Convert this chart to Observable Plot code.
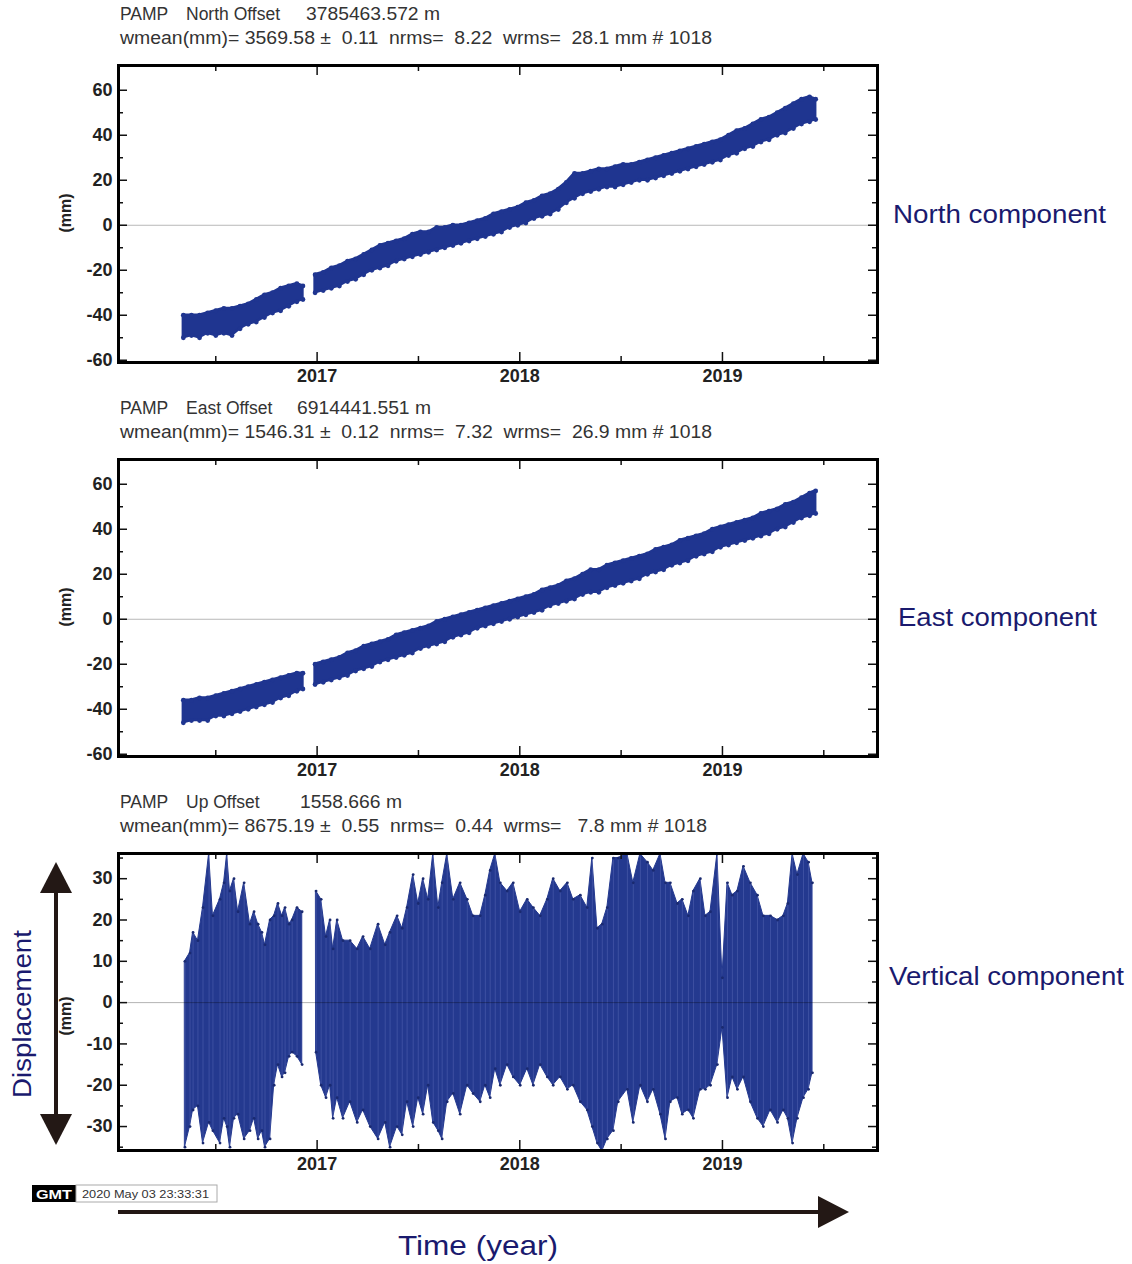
<!DOCTYPE html>
<html><head><meta charset="utf-8">
<script src="https://cdn.jsdelivr.net/npm/d3@7"></script>
<script src="https://cdn.jsdelivr.net/npm/@observablehq/plot@0.6"></script>
<style>
body{margin:0;background:#fff;}
#root{position:relative;width:1132px;height:1264px;overflow:hidden;background:#fff;}
.panel{position:absolute;left:0;}
#overlay{position:absolute;left:0;top:0;pointer-events:none;}
</style></head>
<body><div id="root"></div>
<script>
// ---------- text ----------
const station = "PAMP";
const components = ["North Offset", "East Offset", "Up Offset"];
const refCoords = ["3785463.572 m", "6914441.551 m", "1558.666 m"];
const stats = [
  "wmean(mm)= 3569.58 \u00b1  0.11  nrms=  8.22  wrms=  28.1 mm # 1018",
  "wmean(mm)= 1546.31 \u00b1  0.12  nrms=  7.32  wrms=  26.9 mm # 1018",
  "wmean(mm)= 8675.19 \u00b1  0.55  nrms=  0.44  wrms=   7.8 mm # 1018"
];
const sideLabels = ["North component", "East component", "Vertical component"];
const yLabel = "(mm)";
const timestamp = "2020 May 03 23:33:31";

// ---------- axes ----------
const xDomain = [2016.02, 2019.765];
const xMajor = [2017, 2018, 2019];
const xMinor = [2016.5, 2017.5, 2018.5, 2019.5];
const yDomainNE = [-61, 71];
const yMajorNE = [-60, -40, -20, 0, 20, 40, 60];
const yMinorNE = [-50, -30, -10, 10, 30, 50];
const yDomainV = [-35.8, 36.1];
const yMajorV = [-30, -20, -10, 0, 10, 20, 30];
const yMinorV = [-35, -25, -15, -5, 5, 15, 25, 35];

// ---------- North / East samples (decimal year; null = data gap) ----------
const tNE = [2016.34,2016.38,2016.42,2016.46,2016.50,2016.54,2016.58,2016.62,2016.66,2016.70,2016.74,2016.78,2016.82,2016.86,2016.90,2016.93,
  2016.96,
  2016.99,2017.03,2017.07,2017.11,2017.15,2017.19,2017.23,2017.27,2017.31,2017.35,2017.39,2017.43,2017.47,2017.51,2017.55,2017.59,2017.63,2017.67,2017.71,2017.75,2017.79,2017.83,2017.87,2017.91,2017.95,2017.99,
  2018.03,2018.07,2018.11,2018.15,2018.19,2018.23,2018.27,2018.31,2018.35,2018.39,2018.43,2018.47,2018.51,2018.55,2018.59,2018.63,2018.67,2018.71,2018.75,2018.79,2018.83,2018.87,2018.91,2018.95,2018.99,
  2019.03,2019.07,2019.11,2019.15,2019.19,2019.23,2019.27,2019.31,2019.35,2019.39,2019.43,2019.46];
const northLo = [-50,-49,-50,-48,-49,-48,-49,-46,-44,-43,-41,-39,-38,-36,-34,-33,
  null,
  -30,-29,-28,-27,-25,-24,-22,-20,-19,-18,-16,-15,-14,-13,-12,-11,-10,-9,-8,-7,-6,-5,-4,-3,-1,0,
  1,3,4,5,7,10,12,14,15,16,17,17,18,19,20,20,21,22,23,24,25,26,27,28,29,
  31,32,34,35,37,38,40,41,43,45,46,47];
const northHi = [-40,-40,-40,-39,-38,-37,-37,-36,-35,-33,-31,-30,-28,-27,-26,-27,
  null,
  -22,-21,-19,-18,-16,-15,-13,-11,-9,-8,-7,-6,-4,-3,-3,-1,-1,0,0,1,2,3,5,6,7,8,
  10,11,13,14,16,19,23,23,24,25,25,26,27,27,28,29,30,31,32,33,34,35,36,37,38,
  40,42,43,45,47,48,50,52,54,56,57,56];
const eastLo = [-46,-45,-45,-45,-43,-43,-42,-41,-40,-39,-38,-37,-35,-34,-32,-31,
  null,
  -29,-28,-27,-26,-25,-23,-22,-21,-19,-18,-17,-16,-15,-13,-12,-11,-10,-8,-7,-6,-4,-3,-2,-1,0,1,
  2,3,4,6,7,8,9,11,12,12,14,15,16,17,18,20,21,22,24,25,26,28,29,30,32,
  33,34,35,36,37,38,40,41,43,45,46,47];
const eastHi = [-36,-36,-35,-35,-34,-33,-32,-31,-30,-29,-28,-27,-26,-25,-24,-24,
  null,
  -20,-19,-18,-17,-15,-14,-12,-11,-10,-9,-7,-6,-5,-4,-3,-1,0,1,2,3,4,5,6,7,8,9,
  10,11,13,14,15,17,18,20,22,22,24,25,26,27,28,29,31,32,33,35,36,37,38,40,41,
  42,43,44,45,47,48,49,51,52,54,56,57];

// ---------- Vertical samples (extent of values incl. error bars) ----------
const tV = [2016.348,2016.373,2016.388,2016.412,2016.437,2016.467,2016.486,2016.521,2016.541,2016.556,2016.570,2016.590,2016.610,2016.640,2016.669,2016.689,2016.709,2016.728,2016.743,2016.768,2016.788,2016.807,2016.827,2016.842,2016.862,2016.877,2016.901,2016.926,
  2016.96,
  2016.995,2017.020,2017.044,2017.064,2017.079,2017.099,2017.128,2017.163,2017.198,2017.227,2017.262,2017.301,2017.336,2017.360,2017.395,2017.420,2017.444,2017.474,2017.499,2017.523,2017.548,2017.573,2017.598,2017.617,2017.642,2017.672,2017.706,2017.741,2017.770,2017.805,2017.830,2017.854,2017.879,2017.904,2017.938,2017.968,
  2018.002,2018.037,2018.067,2018.101,2018.136,2018.165,2018.200,2018.235,2018.264,2018.299,2018.333,2018.358,2018.383,2018.407,2018.432,2018.462,2018.486,2018.531,2018.560,2018.595,2018.630,2018.659,2018.694,2018.719,2018.743,2018.778,2018.802,2018.832,2018.857,2018.891,2018.916,2018.941,2018.975,
  2019.000,2019.025,2019.049,2019.074,2019.104,2019.138,2019.173,2019.202,2019.237,2019.272,2019.301,2019.323,2019.346,2019.370,2019.400,2019.425,2019.444];
const upHi = [10,12,17,15,23,36,21,25,29,36,27,30,22,29,19,22,19,17,14,20,21,24,21,23,19,20,23,22,
  null,
  27,25,16,20,13,20,15,15,13,16,13,19,14,17,21,18,23,31,24,30,25,36,23,29,36,25,29,25,21,21,26,32,36,29,27,29,
  22,25,23,21,25,30,27,29,25,26,23,35,18,19,23,35,35,36,29,36,34,32,36,29,29,24,25,21,27,30,21,22,36,
  6,29,26,27,33,29,26,21,21,20,21,24,36,31,36,34,29];
const upLo = [-35,-30,-26,-25,-34,-29,-31,-34,-28,-30,-35,-28,-27,-33,-31,-28,-33,-31,-35,-33,-20,-15,-18,-17,-13,-12,-13,-15,
  null,
  -12,-20,-23,-20,-28,-23,-28,-24,-29,-26,-30,-33,-29,-35,-30,-32,-24,-30,-23,-27,-20,-29,-31,-33,-24,-22,-27,-20,-22,-24,-20,-23,-16,-20,-15,-18,
  -20,-16,-20,-15,-18,-20,-18,-21,-20,-24,-26,-30,-34,-36,-33,-31,-24,-21,-29,-20,-24,-21,-27,-33,-24,-23,-27,-26,-28,-21,-21,-20,-15,
  -6,-23,-18,-21,-18,-24,-28,-30,-26,-29,-26,-28,-34,-28,-23,-21,-17];

// ---------- styles ----------
const bandColor = "#1f3590";
const upColor = "#24398f";
const navy = "#1a1a6e";
const arrowColor = "#231815";

const W = 1132, ML = 118, MR = 255, MT = 10, MB = 34, FH = 297;
const FW = W - ML - MR;
const frameTops = [65, 459, 853];

function rowsOf(t, lo, hi) {
  return t.map((d, i) => ({t: d, lo: lo[i], hi: hi[i]}));
}

function makePanel(k) {
  const vertical = k === 2;
  const yDomain = vertical ? yDomainV : yDomainNE;
  const yMajor = vertical ? yMajorV : yMajorNE;
  const yMinor = vertical ? yMinorV : yMinorNE;
  const rows = k === 0 ? rowsOf(tNE, northLo, northHi) : k === 1 ? rowsOf(tNE, eastLo, eastHi) : rowsOf(tV, upLo, upHi);
  const valid = rows.filter(d => d.lo != null);
  const dataMarks = vertical ? [
    Plot.areaY(rows, {x: "t", y1: "lo", y2: "hi", fill: upColor, stroke: upColor, strokeWidth: 1, clip: true}),
    Plot.ruleX(valid, {x: "t", y1: "lo", y2: "hi", stroke: "#6474bd", strokeOpacity: 0.4, strokeWidth: 1, clip: true}),
    Plot.dot(valid, {x: "t", y: "hi", r: 1.4, fill: "#1a2a70", clip: true}),
    Plot.dot(valid, {x: "t", y: "lo", r: 1.4, fill: "#1a2a70", clip: true}),
    Plot.ruleY([0], {stroke: "#000", strokeOpacity: 0.3, strokeWidth: 1})
  ] : [
    Plot.ruleY([0], {stroke: "#b8b8b8", strokeWidth: 1}),
    Plot.areaY(rows, {x: "t", y1: "lo", y2: "hi", fill: bandColor, stroke: bandColor, strokeWidth: 2.5, strokeLinejoin: "round"}),
    Plot.dot(valid, {x: "t", y: "hi", r: 2.4, fill: bandColor}),
    Plot.dot(valid, {x: "t", y: "lo", r: 2.4, fill: bandColor})
  ];
  const svg = Plot.plot({
    width: W, height: FH + MT + MB,
    marginLeft: ML, marginRight: MR, marginTop: MT, marginBottom: MB,
    x: {domain: xDomain},
    y: {domain: yDomain},
    style: {fontFamily: "'Liberation Sans', Arial, sans-serif", fontSize: "18px", fontWeight: "bold", color: "#222", background: "transparent", overflow: "visible"},
    marks: [
      ...dataMarks,
      Plot.tickY(yMajor, {y: d => d, insetRight: FW - 9, stroke: "#111", strokeWidth: 1.5}),
      Plot.tickY(yMinor, {y: d => d, insetRight: FW - 5, stroke: "#111", strokeWidth: 1.5}),
      Plot.tickY(yMajor, {y: d => d, insetLeft: FW - 9, stroke: "#111", strokeWidth: 1.5}),
      Plot.tickY(yMinor, {y: d => d, insetLeft: FW - 5, stroke: "#111", strokeWidth: 1.5}),
      Plot.tickX(xMajor, {x: d => d, insetTop: FH - 10, stroke: "#111", strokeWidth: 1.5}),
      Plot.tickX(xMinor, {x: d => d, insetTop: FH - 6, stroke: "#111", strokeWidth: 1.5}),
      Plot.tickX(xMajor, {x: d => d, insetBottom: FH - 10, stroke: "#111", strokeWidth: 1.5}),
      Plot.tickX(xMinor, {x: d => d, insetBottom: FH - 6, stroke: "#111", strokeWidth: 1.5}),
      Plot.frame({stroke: "#000", strokeWidth: 3}),
      Plot.axisY(yMajor, {tickSize: 0, tickPadding: 6, tickFormat: d => String(d), label: null}),
      Plot.axisX(xMajor, {tickSize: 0, tickPadding: 7, tickFormat: d => String(d), label: null})
    ]
  });
  svg.classList.add("panel");
  svg.style.top = (frameTops[k] - MT) + "px";
  return svg;
}

const root = document.getElementById("root");
for (let k = 0; k < 3; k++) root.appendChild(makePanel(k));

// ---------- overlay: headers, annotations ----------
const NS = "http://www.w3.org/2000/svg";
const ov = document.createElementNS(NS, "svg");
ov.setAttribute("id", "overlay");
ov.setAttribute("width", W);
ov.setAttribute("height", 1264);
root.appendChild(ov);
function el(name, attrs, text) {
  const e = document.createElementNS(NS, name);
  for (const [a, v] of Object.entries(attrs)) e.setAttribute(a, v);
  if (text != null) e.textContent = text;
  ov.appendChild(e);
  return e;
}
const hdrFont = "'Liberation Sans', Arial, sans-serif";
const offsets = [0, 394, 788];
const refLen = [134, 134, 102];
const refX = [306, 297, 300];
const statLen = [592, 592, 587];
const yLabelY = [213, 607, 1016];
for (let k = 0; k < 3; k++) {
  const dy = offsets[k];
  el("text", {x: 120, y: 20 + dy, "font-family": hdrFont, "font-size": 17.5, fill: "#333"}, station);
  el("text", {x: 186, y: 20 + dy, "font-family": hdrFont, "font-size": 17.5, fill: "#333"}, components[k]);
  el("text", {x: refX[k], y: 20 + dy, "font-family": hdrFont, "font-size": 17.5, fill: "#333", textLength: refLen[k], lengthAdjust: "spacingAndGlyphs"}, refCoords[k]);
  el("text", {x: 120, y: 44 + dy, "font-family": hdrFont, "font-size": 17.5, fill: "#333", textLength: statLen[k], lengthAdjust: "spacingAndGlyphs", style: "white-space:pre"}, stats[k]);
  el("text", {transform: `translate(71,${yLabelY[k]}) rotate(-90)`, "text-anchor": "middle", "font-family": hdrFont, "font-size": 16, "font-weight": "bold", fill: "#222"}, yLabel);
}
const sideX = [893, 898, 889], sideY = [223, 626, 985], sideLen = [213, 199, 235];
for (let k = 0; k < 3; k++) {
  el("text", {x: sideX[k], y: sideY[k], "font-family": hdrFont, "font-size": 25, fill: navy, textLength: sideLen[k], lengthAdjust: "spacingAndGlyphs"}, sideLabels[k]);
}
el("line", {x1: 56, y1: 885, x2: 56, y2: 1122, stroke: arrowColor, "stroke-width": 4});
el("polygon", {points: "56,862 40,893 72,893", fill: arrowColor});
el("polygon", {points: "56,1145 40,1114 72,1114", fill: arrowColor});
el("text", {transform: "translate(31,1014) rotate(-90)", "text-anchor": "middle", "font-family": hdrFont, "font-size": 26, fill: navy, textLength: 168, lengthAdjust: "spacingAndGlyphs"}, "Displacement");
el("line", {x1: 118, y1: 1212, x2: 822, y2: 1212, stroke: arrowColor, "stroke-width": 4});
el("polygon", {points: "849,1212 818,1196 818,1228", fill: arrowColor});
el("text", {x: 398, y: 1255, "font-family": hdrFont, "font-size": 28, fill: navy, textLength: 160, lengthAdjust: "spacingAndGlyphs"}, "Time (year)");
el("rect", {x: 32, y: 1185, width: 44, height: 17, fill: "#000"});
el("text", {x: 54, y: 1198.5, "text-anchor": "middle", "font-family": hdrFont, "font-size": 13, "font-weight": "bold", fill: "#fff", textLength: 36, lengthAdjust: "spacingAndGlyphs"}, "GMT");
el("rect", {x: 76, y: 1185, width: 141, height: 17, fill: "#fff", stroke: "#aaa", "stroke-width": 1});
el("text", {x: 82, y: 1198, "font-family": hdrFont, "font-size": 11, fill: "#333", textLength: 127, lengthAdjust: "spacingAndGlyphs"}, timestamp);
</script></body></html>
